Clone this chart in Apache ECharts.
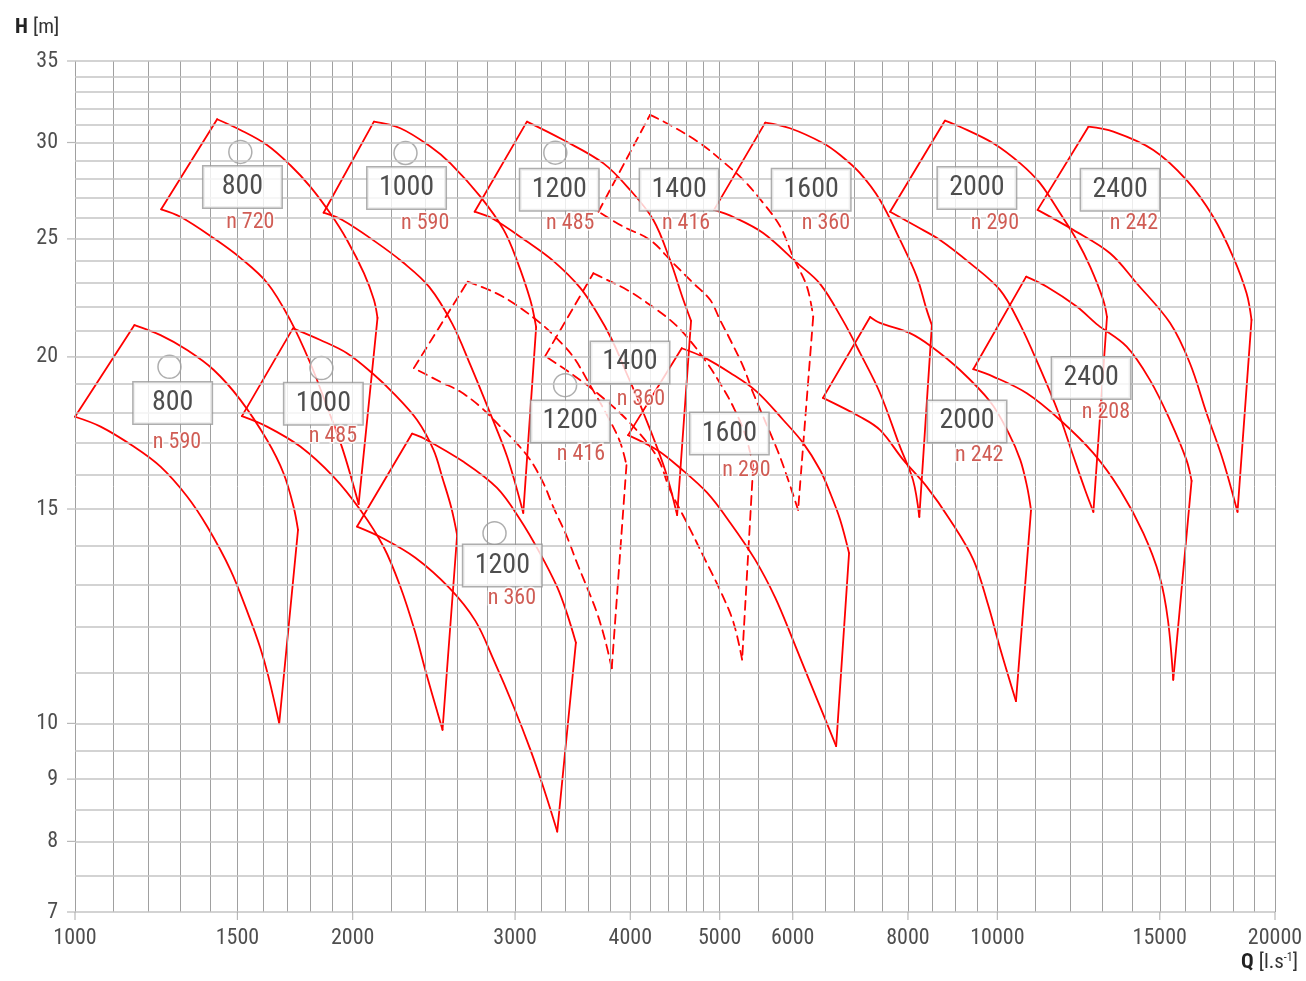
<!DOCTYPE html>
<html><head><meta charset="utf-8">
<script src="https://cdn.jsdelivr.net/npm/echarts@6/dist/echarts.min.js"></script>
<style>html,body{margin:0;padding:0;background:#fff}#c{width:1306px;height:981px}</style>
</head><body><div id="c"></div>
<script>
// ---------- axis / grid values ----------
const xTickValues = [1000,1500,2000,3000,4000,5000,6000,8000,10000,15000,20000];
const yTickValues = [7,8,9,10,15,20,25,30,35];
const xGridValues = [1000,1100,1200,1300,1400,1500,1600,1700,1800,1900,2000,2200,2400,2600,2800,3000,3200,3400,3600,3800,4000,4200,4400,4600,4800,5000,5500,6000,6500,7000,7500,8000,8500,9000,9500,10000,11000,12000,13000,14000,15000,16000,17000,18000,19000,20000];
const yGridValues = [7,7.5,8,8.5,9,9.5,10,11,12,13,14,15,16,17,18,19,20,21,22,23,24,25,26,27,28,29,30,31,32,33,34,35];

// ---------- envelopes [Q, H]: left corner, top, top curve, right corner, bottom, bottom curve, left corner ----------
const env800_720 = [[1240,26.44],[1426,31.35],[1511,30.72],[1615,29.86],[1711,28.75],[1799,27.6],[1891,26.24],[1972,24.95],[2057,23.43],[2109,22.28],[2128,21.53],[2030,15.14],[1949,16.83],[1873,18.26],[1799,19.77],[1711,21.45],[1616,23.0],[1511,24.12],[1413,25.04],[1301,26.07],[1240,26.44]];
const env1000_590 = [[1860,26.27],[2109,31.21],[2253,30.82],[2428,29.77],[2553,28.84],[2751,27.08],[2916,25.43],[3013,24.02],[3116,22.28],[3162,21.16],[3062,14.89],[2942,16.55],[2819,17.98],[2683,19.7],[2565,21.29],[2421,22.83],[2265,23.93],[2118,24.86],[1949,25.91],[1860,26.27]];
const env1200_485 = [[2712,26.32],[3090,31.21],[3385,30.14],[3741,28.84],[3997,27.43],[4237,25.91],[4417,24.02],[4566,22.28],[4655,21.41],[4496,14.83],[4363,16.15],[4130,18.02],[3949,19.51],[3822,20.65],[3682,21.73],[3530,22.79],[3300,23.98],[3085,24.9],[2841,25.96],[2712,26.32]];
const env1400_416 = [[3694,26.32],[4202,31.61],[4417,31.01],[4761,29.96],[5043,28.93],[5305,27.95],[5573,26.76],[5817,25.59],[6003,24.18],[6217,22.84],[6315,21.58],[6081,14.97],[5917,15.94],[5774,16.77],[5436,18.68],[5305,19.62],[5135,20.65],[5004,21.45],[4882,22.28],[4679,23.0],[4450,23.89],[4202,24.95],[3929,25.59],[3694,26.32]];
const env1600_360 = [[4930,26.41],[5602,31.15],[5960,30.82],[6475,29.96],[6754,29.3],[7098,28.31],[7460,26.91],[7844,24.95],[8177,23.28],[8383,21.86],[8492,21.24],[8230,14.78],[8101,15.85],[7844,16.87],[7460,18.68],[7098,20.15],[6805,21.41],[6424,22.96],[6065,23.89],[5573,25.28],[5174,26.06],[4930,26.41]];
const env2000_290 = [[7651,26.32],[8775,31.27],[9109,30.91],[9898,29.96],[10589,28.84],[11123,27.78],[11696,26.24],[12191,24.95],[12606,23.72],[13024,22.28],[13148,21.57],[12709,14.92],[12450,15.55],[12075,16.62],[11639,18.02],[11095,19.66],[10563,21.33],[10065,22.7],[9340,23.88],[8666,24.95],[8177,25.59],[7651,26.32]];
const env2400_242 = [[11057,26.41],[12553,30.91],[13360,30.62],[14758,29.58],[16033,27.95],[17139,26.07],[18009,24.18],[18630,22.56],[18861,21.45],[18213,14.92],[17561,16.46],[16860,17.98],[16169,19.77],[15386,21.33],[14159,22.99],[13249,24.33],[12084,25.43],[11057,26.41]];
const env800_590 = [[1000,17.86],[1160,21.24],[1238,20.84],[1323,20.26],[1414,19.51],[1511,18.44],[1615,17.09],[1683,16.05],[1726,15.06],[1745,14.42],[1665,10.0],[1620,10.94],[1588,11.54],[1542,12.28],[1474,13.37],[1391,14.51],[1323,15.36],[1238,16.25],[1158,16.88],[1066,17.53],[1000,17.86]];
const env1000_485 = [[1517,17.88],[1723,21.11],[1845,20.65],[1972,20.14],[2101,19.39],[2215,18.67],[2349,17.75],[2448,16.77],[2503,15.9],[2559,15.03],[2596,14.28],[2503,9.88],[2401,11.02],[2334,11.93],[2253,12.95],[2161,13.96],[2039,14.97],[1907,15.94],[1755,16.88],[1615,17.53],[1517,17.88]];
const env1200_360 = [[2022,14.51],[2320,17.3],[2387,17.15],[2638,16.4],[2868,15.61],[3039,14.7],[3192,13.8],[3331,12.95],[3414,12.32],[3492,11.65],[3333,8.15],[3226,8.82],[3116,9.52],[2988,10.33],[2843,11.28],[2717,12.14],[2546,12.92],[2339,13.68],[2154,14.2],[2022,14.51]];
const env1200_416 = [[2330,19.58],[2665,23.06],[2841,22.62],[2986,22.15],[3193,21.33],[3317,20.77],[3469,20.0],[3618,18.96],[3784,17.85],[3900,17.02],[3962,16.3],[3819,11.1],[3756,11.71],[3680,12.33],[3588,12.95],[3501,13.55],[3414,14.24],[3300,15.06],[3220,15.75],[3116,16.46],[3013,16.98],[2892,17.53],[2751,18.2],[2616,18.73],[2490,19.08],[2330,19.58]];
const env1400_360 = [[3234,20.03],[3648,23.43],[3738,23.22],[3968,22.7],[4171,22.15],[4417,21.45],[4608,20.77],[4845,19.77],[5004,19.03],[5174,18.19],[5331,17.25],[5436,16.27],[5288,11.28],[5174,12.11],[5004,12.87],[4821,13.63],[4608,14.61],[4417,15.55],[4277,16.55],[3997,17.65],[3682,18.68],[3443,19.4],[3234,20.03]];
const env1600_290 = [[3978,17.25],[4548,20.33],[4796,20.0],[5135,19.4],[5484,18.73],[5860,17.75],[6159,16.99],[6424,16.15],[6586,15.47],[6754,14.7],[6906,13.8],[6687,9.58],[6500,10.1],[6268,10.8],[6003,11.71],[5745,12.68],[5462,13.63],[5135,14.61],[4845,15.47],[4529,16.21],[4277,16.77],[3978,17.25]];
const env2000_242 = [[6470,18.51],[7279,21.57],[7460,21.33],[8039,20.92],[8486,20.39],[9109,19.51],[9820,18.38],[10275,17.35],[10589,16.46],[10772,15.64],[10877,14.97],[10476,10.43],[10065,11.54],[9770,12.52],[9417,13.63],[8884,14.7],[8383,15.65],[7907,16.46],[7460,17.42],[7098,17.86],[6470,18.51]];
const env2400_208 = [[9417,19.54],[10746,23.28],[11315,22.84],[12191,22.0],[12856,21.24],[13811,20.39],[14639,19.14],[15386,17.75],[16033,16.46],[16240,15.82],[15514,10.86],[15309,12.16],[15000,13.19],[14397,14.33],[13586,15.55],[12709,16.67],[11696,17.75],[10764,18.67],[9898,19.27],[9417,19.54]];

const solidEnvelopes = [env800_720, env1000_590, env1200_485, env1600_360, env2000_290, env2400_242, env800_590, env1000_485, env1200_360, env1600_290, env2000_242, env2400_208];
const dashedEnvelopes = [env1400_416, env1200_416, env1400_360];

// ---------- labels ----------
const sizeLabels = [['800',1519,27.58],['1000',2288,27.53],['1200',3350,27.43],['1400',4518,27.43],['1600',6283,27.43],['2000',9502,27.53],['2400',13586,27.43],
  ['800',1276,18.33],['1000',1859,18.3],['1200',2906,13.48],['1200',3443,17.7],['1400',3997,19.79],['1600',5122,17.3],['2000',9271,17.7],['2400',12638,19.22]];
const speedLabels = [['n 720',1549,25.81],['n 590',2397,25.76],['n 485',3443,25.76],['n 416',4597,25.76],['n 360',6518,25.76],['n 290',9939,25.76],['n 242',14061,25.76],
  ['n 590',1290,17.0],['n 485',1904,17.2],['n 360',2976,12.67],['n 416',3536,16.62],['n 360',4107,18.46],['n 290',5344,16.13],['n 242',9558,16.59],['n 208',13114,17.99]];
const markerCircles = [[1511,29.47],[2282,29.41],[3317,29.43],[1266,19.63],[1850,19.58],[2850,14.33],[3399,18.96]];

const FONT = "'Liberation Sans Narrow','Roboto Condensed','DejaVu Sans Condensed','Arial Narrow',sans-serif";
const RED = '#ff0000';

const chart = echarts.init(document.getElementById('c'), null, {renderer: 'canvas'});

const gridLines = [];
xGridValues.forEach(v => gridLines.push({xAxis: v, lineStyle: {color: '#a0a0a0', width: 1, type: 'solid'}}));
yGridValues.forEach(v => gridLines.push({yAxis: v, lineStyle: {color: '#c4c4c4', width: 1.6, type: 'solid'}}));

// split an envelope into its 4 sides: straight left edge, curved top, straight right edge, curved bottom
function sides(env) {
  let b = 0;
  env.forEach((p, i) => { if (p[1] < env[b][1]) b = i; });
  return [
    {pts: env.slice(0, 2), smooth: false},
    {pts: env.slice(1, b), smooth: true},
    {pts: env.slice(b - 1, b + 1), smooth: false},
    {pts: env.slice(b), smooth: true}
  ];
}

const series = [];
series.push({
  type: 'line', data: [[1000, 7]], symbol: 'none', silent: true, lineStyle: {width: 0},
  markLine: {silent: true, symbol: ['none', 'none'], label: {show: false}, animation: false, data: gridLines}
});
function addEnvelope(env, dash) {
  sides(env).forEach(s => series.push({type: 'line', data: s.pts, symbol: 'none', silent: true, z: 3,
    smooth: s.smooth ? 0.35 : false,
    lineStyle: {color: RED, width: 1.8, type: dash ? [9, 6] : 'solid', cap: 'round', join: 'round'}}));
}
solidEnvelopes.forEach(d => addEnvelope(d, false));
dashedEnvelopes.forEach(d => addEnvelope(d, true));

series.push({type: 'scatter', data: markerCircles, symbol: 'circle', symbolSize: 23, z: 4, clip: false,
  itemStyle: {color: '#fff', borderColor: '#9a9a9a', borderWidth: 1.5}});
series.push({type: 'scatter', z: 5, clip: false, symbolSize: 0,
  data: sizeLabels.map(s => ({value: [s[1], s[2]], name: s[0]})),
  label: {show: true, position: 'inside', formatter: p => p.name, fontFamily: FONT, fontSize: 28, color: '#222',
    backgroundColor: '#fff', borderColor: '#9a9a9a', borderWidth: 1.5, padding: [6, 11], lineHeight: 29, width: 56, align: 'center'}});
series.push({type: 'scatter', z: 6, clip: false, symbolSize: 0,
  data: speedLabels.map(s => ({value: [s[1], s[2]], name: s[0]})),
  label: {show: true, position: 'inside', formatter: p => p.name, fontFamily: FONT, fontSize: 22, color: '#c4342a',
    textBorderColor: '#fff', textBorderWidth: 3}});
series.push({type: 'scatter', z: 6, clip: false, silent: true,
  data: xTickValues.map(v => ({value: [v, 7], name: String(v)})),
  symbol: 'rect', symbolSize: [1.2, 8], symbolOffset: [0, 4], itemStyle: {color: '#a6a6a6'},
  label: {show: true, position: 'bottom', distance: 7, formatter: p => p.name, fontFamily: FONT, fontSize: 22, color: '#222'}});
series.push({type: 'scatter', z: 6, clip: false, silent: true,
  data: yTickValues.map(v => ({value: [1000, v], name: String(v)})),
  symbol: 'rect', symbolSize: [8, 1.2], symbolOffset: [-4, 0], itemStyle: {color: '#a6a6a6'},
  label: {show: true, position: 'left', distance: 9, formatter: p => p.name, fontFamily: FONT, fontSize: 22, color: '#222'}});

chart.setOption({
  animation: false,
  backgroundColor: '#fff',
  title: [
    {text: '{b|H} {r|[m]}', left: 10, top: 12,
      textStyle: {fontWeight: 'normal', rich: {b: {fontFamily: FONT, fontWeight: 'bold', fontSize: 21, color: '#222'}, r: {fontFamily: FONT, fontWeight: 'normal', fontSize: 21, color: '#333'}}}},
    {text: '{b|Q} {r|[l.s}{s|-1}{r|]}', right: 3, bottom: 3,
      textStyle: {fontWeight: 'normal', rich: {b: {fontFamily: FONT, fontWeight: 'bold', fontSize: 21, color: '#222'}, r: {fontFamily: FONT, fontWeight: 'normal', fontSize: 21, color: '#333'},
        s: {fontFamily: FONT, fontWeight: 'normal', fontSize: 12, color: '#333', verticalAlign: 'top'}}}}
  ],
  grid: {left: 75, right: 31, top: 61, bottom: 69},
  xAxis: {type: 'log', logBase: 10, min: 1000, max: 20000,
    axisLine: {show: false}, axisTick: {show: false}, axisLabel: {show: false}, splitLine: {show: false}, minorSplitLine: {show: false}},
  yAxis: {type: 'log', logBase: 10, min: 7, max: 35,
    axisLine: {show: false}, axisTick: {show: false}, axisLabel: {show: false}, splitLine: {show: false}, minorSplitLine: {show: false}},
  series: series
});
</script></body></html>
